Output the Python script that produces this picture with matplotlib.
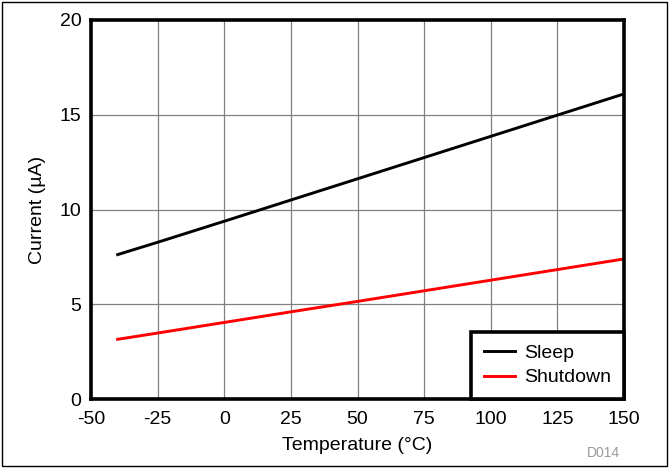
import matplotlib
matplotlib.use("Agg")
import matplotlib.pyplot as plt
from matplotlib.patches import Rectangle

plt.rcParams['font.family'] = ['Liberation Sans', 'DejaVu Sans']
plt.rcParams['axes.unicode_minus'] = False

temperature = [-40, -25, 0, 25, 50, 75, 100, 125, 150]
sleep = [7.62, 8.27, 9.38, 10.5, 11.62, 12.74, 13.86, 14.98, 16.1]
shutdown = [3.15, 3.48, 4.04, 4.6, 5.15, 5.71, 6.27, 6.83, 7.39]
xticks = [-50, -25, 0, 25, 50, 75, 100, 125, 150]
yticks = [0, 5, 10, 15, 20]

fig = plt.figure(figsize=(6.69, 4.68), dpi=100)
ax = fig.add_axes([91/669, 1-399/468, (624-91)/669, (399-20)/468])

ax.plot(temperature, sleep, color='black', lw=2.1, label='Sleep')
ax.plot(temperature, shutdown, color='#ff0000', lw=2.1, label='Shutdown')

ax.set_xlim(-50, 150)
ax.set_ylim(0, 20)
ax.set_xticks(xticks)
ax.set_yticks(yticks)
ax.tick_params(length=0, labelsize=14)
ax.tick_params(axis='x', pad=9)
ax.tick_params(axis='y', pad=7)
ax.grid(True, color='#808080', lw=0.9)
ax.set_axisbelow(True)
for s in ax.spines.values():
    s.set_linewidth(2.6)
ax.set_xlabel('Temperature (°C)', fontsize=14, labelpad=6)
ax.set_ylabel('Current (µA)', fontsize=14, labelpad=10)

leg = ax.legend(loc='lower right', fontsize=14, fancybox=False, framealpha=1,
                edgecolor='black', borderaxespad=0, handlelength=1.6,
                handletextpad=0.5, borderpad=0.65, labelspacing=0.35)
leg.get_frame().set_linewidth(2.6)

fig.text(620/669, 1-453/468, 'D014', color='#999999', fontsize=10, ha='right', va='center')
fig.patches.append(Rectangle((2/669, 2/468), 1-4/669, 1-4/468, transform=fig.transFigure,
                             fill=False, edgecolor='black', lw=1))

fig.savefig('out.png', dpi=100)
